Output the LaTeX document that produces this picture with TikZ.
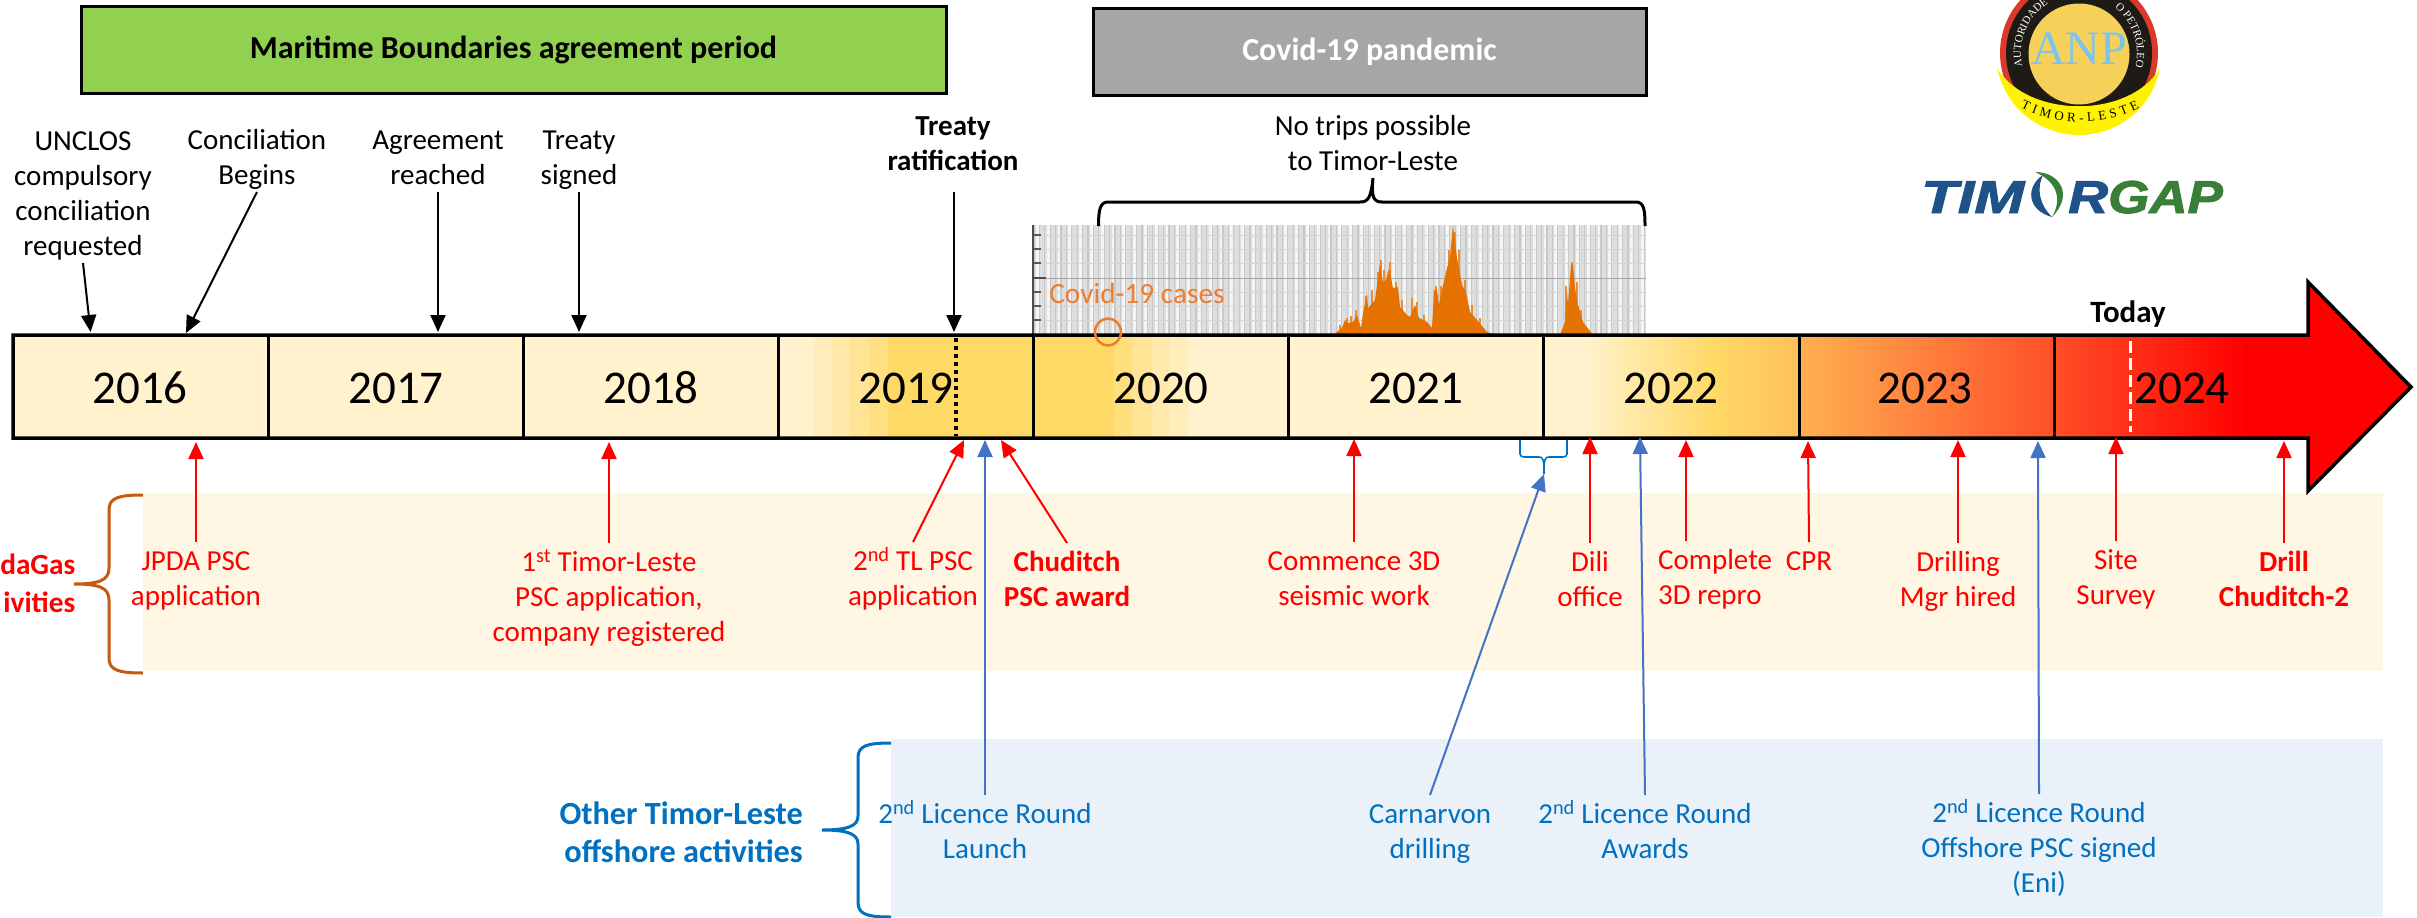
\documentclass[tikz,border=0pt]{standalone}
\usepackage{fontspec}
\usepackage{graphicx}
\setmainfont{Carlito}
\newfontfamily\logoserif{Liberation Serif}
\newfontfamily\logosans[BoldItalicFeatures={FakeBold=2}]{Liberation Sans}
\usetikzlibrary{arrows.meta,decorations.text}
\definecolor{cgreen}{HTML}{92D050}
\definecolor{cgrey}{HTML}{A6A6A6}
\definecolor{lblblue}{HTML}{0070C0}
\definecolor{arrblue}{HTML}{4472C4}
\definecolor{cband}{HTML}{FFF7E3}
\definecolor{bband}{HTML}{EAF1F9}
\definecolor{cases}{HTML}{ED7D31}
\definecolor{casefill}{HTML}{E57200}
\definecolor{bracebrown}{HTML}{C55A11}
\definecolor{stripe}{HTML}{C8C8C8}
\newcommand\topstrut{\rule{0pt}{28pt}}
\newcommand\botstrut{\rule[-7pt]{0pt}{7pt}}
\tikzset{
  x=1pt,y=-1pt,
  txt/.style={inner sep=0pt,align=center,font=\fontsize{29}{35}\selectfont},
  blacklbl/.style={txt,text=black},
  redlbl/.style={txt,text=red},
  bluelbl/.style={txt,text=lblblue},
  yearlbl/.style={inner sep=0pt,font=\fontsize{47}{50}\selectfont},
  periodbox/.style={draw=black,line width=3pt,inner sep=0pt,font=\fontsize{32}{38}\selectfont\bfseries},
  arrk/.style={line width=2pt,draw=black,-{Triangle[length=17pt,width=15pt]}},
  arrr/.style={line width=2pt,draw=red,-{Triangle[length=17pt,width=15pt]}},
  arrb/.style={line width=2pt,draw=arrblue,-{Triangle[length=17pt,width=15pt]}},
  div/.style={draw=black,line width=3pt},
}
\begin{document}
\begin{tikzpicture}
\useasboundingbox (0,0) rectangle (2417,918);
% bands
\fill[cband] (143,493) rectangle (2383,671);
\fill[bband] (891,739) rectangle (2383,917);
% period boxes
\node[periodbox,fill=cgreen,minimum width=865pt,minimum height=87pt] (maritime) at (513.5,50) {\raisebox{-2.5pt}{Maritime Boundaries agreement period}};
\node[periodbox,fill=cgrey,text=white,minimum width=553pt,minimum height=87pt] (covid) at (1369.5,51.5) {\raisebox{-2pt}{Covid-19 pandemic}};
% chart
\fill[black!13] (1033,225) rectangle (1646,335);
\foreach \i in {0,...,56}{
  \fill[black!4] ({1036+10.8*\i},225) rectangle ({1040+10.8*\i},335);
}
\foreach \i in {0,...,113}{
  \draw[stripe,line width=1.2pt] ({1034+5.4*\i},225) -- ({1034+5.4*\i},335);
}
\foreach \yy in {235,249,263,292,306,320}{
  \draw[black!16,line width=1pt] (1033,\yy) -- (1646,\yy);
  \draw[black!65,line width=1.6pt] (1033,\yy) -- (1041,\yy);
}
\draw[black!35,line width=1pt] (1033,278) -- (1646,278);
\draw[black!70,line width=1.8pt] (1033,278) -- (1046,278);
\draw[black!70,line width=1.5pt] (1033,225) -- (1033,335);
\foreach \sx/\sy in {1340/325,1347/318,1351/316,1356/310,1366/296,1372/290,1378/272,1381/260,1384/270,1390/262,1396/282,1402/300,1412/298,1417/302,1424/315,1436/286,1441/286,1449/250,1455/232,1459/250,1465/280,1472/305,1480/318,1566/286,1572/262,1577/282,1581/310}{
  \draw[casefill!80,line width=1.1pt] (\sx,334) -- (\sx,\sy);
}
\fill[casefill] (1333,335) -- (1342,328) -- (1345,320) -- (1348,323) -- (1353,322) -- (1357,315) -- (1361,328) -- (1363,313) -- (1367,293) -- (1368,308) -- (1375,300) -- (1380,263) -- (1383,283) -- (1386,280) -- (1389,268) -- (1393,288) -- (1398,287) -- (1400,307) -- (1407,315) -- (1410,317) -- (1415,305) -- (1419,318) -- (1427,322) -- (1432,328) -- (1434,290) -- (1437,290) -- (1439,305) -- (1442,290) -- (1447,268) -- (1450,257) -- (1453,225) -- (1457,258) -- (1462,285) -- (1466,292) -- (1470,312) -- (1477,320) -- (1487,332) -- (1497,335) -- (1560,335) -- (1565,322) -- (1567,290) -- (1568,305) -- (1571,265) -- (1573,265) -- (1575,288) -- (1578,305) -- (1583,322) -- (1593,335) -- cycle;
\node[font=\fontsize{29.3}{32}\selectfont,text=cases,inner sep=0pt] (caseslbl) at (1137,293) {Covid-19 cases};
% timeline fill
\fill[fill={rgb,255:red,255;green,242;blue,204}] (13,335) rectangle (814,438);
\foreach \a/\b/\c in {813/832/FFEDBC,832/850/FFE8A8,850/869/FFE495,869/888/FFDF80,888/1115/FFD966,1114/1133/FFDE7C,1132/1153/FFE495,1152/1171/FFE9AC,1170/1189/FFEDBC,1188/1586/FFF2CC}{
  \definecolor{bandtmp}{HTML}{\c}
  \fill[bandtmp] (\a,335) rectangle (\b,438);
}
\foreach \a/\b/\c/\d in {1585/1714/FFF2CC/FFD966,1713/1799/FFD966/FFC05A,1799/1900/FFB050/FF8A42,1899/2054/FF8A42/FF4F27,2053/2246/FF4F27/FF0000}{
  \definecolor{bandl}{HTML}{\c}\definecolor{bandr}{HTML}{\d}
  \shade[left color=bandl,right color=bandr] (\a,335) rectangle (\b,438);
}
\fill[red] (2245,335) -- (2308,335) -- (2308,282) -- (2411,387) -- (2308,491) -- (2308,438) -- (2245,438) -- cycle;
\draw[black,line width=3.5pt,line join=miter] (13,335) -- (2308,335) -- (2308,282) -- (2411,387) -- (2308,491) -- (2308,438) -- (13,438) -- cycle;
\foreach \dx in {268,523,778,1033,1288,1543,1799,2054}{
  \draw[div] (\dx,335) -- (\dx,438);
}
% case circle
\draw[cases,line width=2.5pt] (1108,332) ellipse[x radius=13pt,y radius=13.5pt];
% today line and dotted line
\coordinate (todayA) at (2130,341);
\coordinate (todayB) at (2130,432);
\draw[white,line width=3pt,dash pattern=on 12pt off 5pt] (todayA) -- (todayB);
\coordinate (ratA) at (956,338);
\coordinate (ratB) at (956,436);
\draw[black,line width=4pt,dash pattern=on 4pt off 4pt] (ratA) -- (ratB);
% years
\foreach \nm/\yx in {2016/140,2017/396,2018/651,2019/906,2020/1161,2021/1416,2022/1671,2023/1925,2024/2182}{
  \node[yearlbl] (y\nm) at (\yx,388) {\nm};
}
\node[inner sep=0pt,font=\fontsize{31}{34}\selectfont\bfseries] (today) at (2128,314) {Today};
% top labels
\node[blacklbl,anchor=south] (unclos) at (83,263) {UNCLOS\\compulsory\\conciliation\\requested\botstrut};
\node[blacklbl,anchor=south] (concil) at (257,192) {Conciliation\\Begins\botstrut};
\node[blacklbl,anchor=south] (agree) at (438,192) {Agreement\\reached\botstrut};
\node[blacklbl,anchor=south] (signed) at (579,192) {Treaty\\signed\botstrut};
\node[blacklbl,anchor=south,font=\fontsize{29}{35}\selectfont\bfseries] (ratif) at (953,178) {Treaty\\ratification\botstrut};
\node[blacklbl,anchor=south] (notrips) at (1373,178) {No trips possible\\to Timor-Leste\botstrut};
\coordinate (tUnclos) at (90.6,332);
\coordinate (tConcil) at (186,333);
\coordinate (tAgree) at (438,332);
\coordinate (tSigned) at (579,332);
\coordinate (rStart) at (954,192);
\coordinate (tRatif) at (954,332);
\draw[arrk] (unclos.south) -- (tUnclos);
\draw[arrk] (concil.south) -- (tConcil);
\draw[arrk] (agree.south) -- (tAgree);
\draw[arrk] (signed.south) -- (tSigned);
\draw[arrk] (rStart) -- (tRatif);
% top brace
\draw[black,line width=3pt] (1098.5,226) .. controls (1098.5,210) and (1100,202) .. (1108,202) -- (1360,202) .. controls (1368,202) and (1371,198) .. (notrips.south) .. controls (1371,198) and (1374,202) .. (1382,202) -- (1636,202) .. controls (1644,202) and (1645,210) .. (1645,226);
% red labels
\node[redlbl,anchor=north] (jpda) at (196,542) {\topstrut JPDA PSC\\application};
\node[redlbl,anchor=north] (first) at (609,543) {\topstrut 1\textsuperscript{st} Timor-Leste\\PSC application,\\company registered};
\node[redlbl,anchor=north] (second) at (913,542) {\topstrut 2\textsuperscript{nd} TL PSC\\application};
\node[redlbl,anchor=north,font=\fontsize{29}{35}\selectfont\bfseries] (chud) at (1067,543) {\topstrut Chuditch\\PSC award};
\node[redlbl,anchor=north] (comm) at (1354,542) {\topstrut Commence 3D\\seismic work};
\node[redlbl,anchor=north] (dili) at (1590,543) {\topstrut Dili\\office};
\node[redlbl,anchor=north west,align=left] (compl) at (1658,541) {\topstrut Complete\\3D repro};
\node[redlbl,anchor=north] (cpr) at (1809,542) {\topstrut CPR};
\node[redlbl,anchor=north] (drillm) at (1958,543) {\topstrut Drilling\\Mgr hired};
\node[redlbl,anchor=north] (site) at (2116,541) {\topstrut Site\\Survey};
\node[redlbl,anchor=north,font=\fontsize{29}{35}\selectfont\bfseries] (drill) at (2284,543) {\topstrut Drill\\Chuditch-2};
\coordinate (tJpda) at (196,442);
\coordinate (tFirst) at (609,442);
\coordinate (tSecond) at (964,440);
\coordinate (tChud) at (1001,440);
\coordinate (tComm) at (1354,439);
\coordinate (tDili) at (1590,437);
\coordinate (tCompl) at (1686,440);
\coordinate (tCpr) at (1808,441);
\coordinate (tDrillm) at (1958,440);
\coordinate (tSite) at (2116,437);
\coordinate (tDrill) at (2284,441);
\draw[arrr] (jpda.north) -- (tJpda);
\draw[arrr] (first.north) -- (tFirst);
\draw[arrr] (second.north) -- (tSecond);
\draw[arrr] (chud.north) -- (tChud);
\draw[arrr] (comm.north) -- (tComm);
\draw[arrr] (dili.north) -- (tDili);
\draw[arrr] ([xshift=28pt]compl.north west) -- (tCompl);
\draw[arrr] (cpr.north) -- (tCpr);
\draw[arrr] (drillm.north) -- (tDrillm);
\draw[arrr] (site.north) -- (tSite);
\draw[arrr] (drill.north) -- (tDrill);
% blue labels
\node[bluelbl,anchor=north] (launch) at (985,795) {\topstrut 2\textsuperscript{nd} Licence Round\\Launch};
\node[bluelbl,anchor=north] (carn) at (1430,795) {\topstrut Carnarvon\\drilling};
\node[bluelbl,anchor=north] (awards) at (1645,795) {\topstrut 2\textsuperscript{nd} Licence Round\\Awards};
\node[bluelbl,anchor=north] (eni) at (2039,794) {\topstrut 2\textsuperscript{nd} Licence Round\\Offshore PSC signed\\(Eni)};
\coordinate (tLaunch) at (985,440);
\coordinate (tCarn) at (1544,474);
\coordinate (tAwards) at (1640,437);
\coordinate (tEni) at (2038,441);
\draw[arrb] (launch.north) -- (tLaunch);
\draw[arrb] (carn.north) -- (tCarn);
\draw[arrb] (awards.north) -- (tAwards);
\draw[arrb] (eni.north) -- (tEni);
% small blue brace
\draw[lblblue,line width=1.6pt] (1520,440) -- (1520,454) .. controls (1520,456) and (1522,457) .. (1524,457) -- (1539,457) .. controls (1543,457) and (1544,459) .. (tCarn) .. controls (1544,459) and (1545,457) .. (1549,457) -- (1563,457) .. controls (1565,457) and (1567,456) .. (1567,454) -- (1567,440);
% side group labels
\node[txt,anchor=east,align=right,text=red,font=\fontsize{29.3}{38}\selectfont\bfseries] (sg) at (75.5,583) {daGas\\ivities};
\node[txt,anchor=east,align=right,text=lblblue,font=\fontsize{32.3}{38}\selectfont\bfseries] (other) at (803,832.5) {Other Timor-Leste\\offshore activities};
% side braces
\draw[bracebrown,line width=3pt] (143,495) .. controls (118,495) and (109,498) .. (109,510) -- (109,568) .. controls (109,580) and (100,584) .. (74,584) .. controls (100,584) and (109,588) .. (109,600) -- (109,658) .. controls (109,670) and (118,673) .. (143,673);
\draw[lblblue,line width=3pt] (891,743) .. controls (866,743) and (858,746) .. (858,758) -- (858,816) .. controls (858,826) and (848,830) .. (822,830) .. controls (848,830) and (858,834) .. (858,844) -- (858,902) .. controls (858,914) and (866,917) .. (891,917);
% ANP logo
\begin{scope}
\clip (1950,0) rectangle (2210,150);
\fill[fill={rgb,255:red,217;green,58;blue,43}] (2079,53) circle[radius=79pt];
\fill[fill={rgb,255:red,30;green,26;blue,22}] (2079,53) circle[radius=73pt];
\fill[fill={rgb,255:red,245;green,209;blue,90}] (2079,54) circle[radius=50.5pt];
\fill[yellow] (1997,68) .. controls (2008,116) and (2048,135) .. (2079,135) .. controls (2110,135) and (2150,116) .. (2160,68) .. controls (2130,119) and (2028,119) .. cycle;
\node[inner sep=0pt,font=\logoserif\fontsize{48}{50}\selectfont,text={rgb,255:red,124;green,196;blue,240}] (anp) at (2079,49) {ANP};
\path[decorate,decoration={text along path,text align=fit to path,text={|\logoserif\fontsize{11}{11}\selectfont\color{white}|AUTORIDADE}}] ([shift={(2079,53)}]193:58pt) arc[start angle=193,end angle=122,radius=58pt];
\path[decorate,decoration={text along path,text align=fit to path,text={|\logoserif\fontsize{11}{11}\selectfont\color{white}|O PETRÓLEO}}] ([shift={(2079,53)}]52:58pt) arc[start angle=52,end angle=-12,radius=58pt];
\path[decorate,decoration={text along path,text align=fit to path,text={|\logoserif\fontsize{13}{13}\selectfont\color{black}|TIMOR-LESTE}}] ([shift={(2080,-9)}]243:131pt) arc[start angle=243,end angle=297,radius=131pt];
\end{scope}
% TimorGap logo
\definecolor{tgblue}{HTML}{1F5288}
\definecolor{tggreen}{HTML}{3A7F38}
\node[anchor=base west,inner sep=0pt,text=tgblue,font=\logosans\fontsize{46}{46}\selectfont\bfseries\itshape] (tim) at (1921,213) {\scalebox{1.3}[1]{TIM}};
\node[anchor=base west,inner sep=0pt,text=tgblue,font=\logosans\fontsize{46}{46}\selectfont\bfseries\itshape] (rr) at (2068,213) {\scalebox{1.2}[1]{R}};
\node[anchor=base west,inner sep=0pt,text=tggreen,font=\logosans\fontsize{46}{46}\selectfont\bfseries\itshape] (gap) at (2108,213) {\scalebox{1.15}[1]{GAP}};
\fill[tgblue] (2052,217) .. controls (2026,210) and (2026,186) .. (2043,175) .. controls (2036,190) and (2040,205) .. cycle;
\fill[tggreen] (2035,172) .. controls (2060,172) and (2074,195) .. (2052,217) .. controls (2062,200) and (2058,182) .. cycle;
\end{tikzpicture}
\end{document}
